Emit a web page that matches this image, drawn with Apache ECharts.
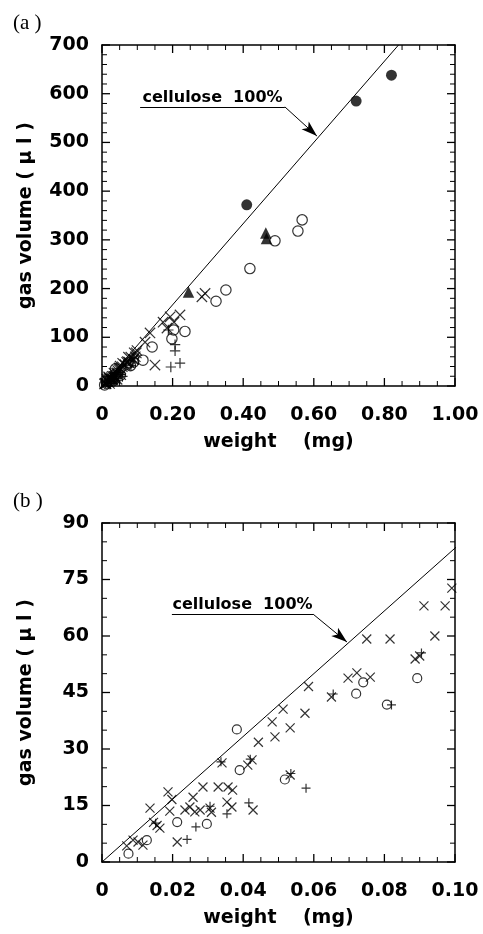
<!DOCTYPE html>
<html><head><meta charset="utf-8">
<script src="https://cdn.jsdelivr.net/npm/echarts@6/dist/echarts.min.js"></script>
<style>html,body{margin:0;padding:0;background:#fff}#c{width:483px;height:934px}</style>
</head><body><div id="c"></div>
<script>
// weight (mg), gas volume (µl)
const filledCircles = [[0.41,372],[0.72,585],[0.82,638]];
const filledTriangles = [[0.245,193],[0.464,314],[0.466,303]];
const openCircles = [
  [0.0075,2.2],[0.0127,5.8],[0.0213,10.6],[0.0297,10.1],[0.0382,35.2],[0.0390,24.4],
  [0.0518,21.9],[0.0720,44.7],[0.0740,47.7],[0.0807,41.8],[0.0893,48.8],
  [0.116,53],[0.142,80],[0.198,97],[0.203,115],[0.235,112],[0.323,174],[0.351,197],
  [0.419,241],[0.490,298],[0.555,318],[0.567,341]
];
const crosses = [
  [0.0070,4.3],[0.0088,5.8],[0.0102,5.3],[0.0116,4.5],[0.0136,14.3],[0.0146,10.5],
  [0.0156,9.7],[0.0164,9.0],[0.0187,18.6],[0.0198,16.6],[0.0192,13.5],[0.0213,5.3],
  [0.0235,13.8],[0.0249,14.6],[0.0258,17.2],[0.0263,13.3],[0.0278,13.8],[0.0286,19.9],
  [0.0306,14.3],[0.0310,13.2],[0.0329,19.9],[0.0340,26.3],[0.0357,19.9],[0.0354,15.9],
  [0.0368,14.6],[0.0370,19.1],[0.0413,25.7],[0.0425,27.1],[0.0428,13.8],[0.0443,31.8],
  [0.0482,37.2],[0.0490,33.2],[0.0513,40.6],[0.0533,35.6],[0.0533,23.1],[0.0575,39.5],
  [0.0585,46.6],[0.0650,43.8],[0.0697,48.8],[0.0722,50.2],[0.0760,49.1],[0.0750,59.2],
  [0.0816,59.2],[0.0887,53.9],[0.0900,54.7],[0.0912,68.0],[0.0943,60.0],[0.0972,68.0],
  [0.0991,72.7],
  [0.122,90],[0.136,109],[0.150,43],[0.173,131],[0.184,119],[0.193,142],[0.204,131],
  [0.221,146],[0.283,183],[0.292,190]
];
const pluses = [
  [0.0152,10.3],[0.0241,6.0],[0.0266,9.3],[0.0306,14.8],[0.0337,26.6],[0.0354,12.8],
  [0.0416,15.7],[0.0420,27.3],[0.0535,23.5],[0.0578,19.6],[0.0655,44.6],[0.0820,41.7],
  [0.0905,55.5],
  [0.195,39],[0.221,47],[0.207,72],[0.207,85],[0.188,115]
];
const cellulose = [[0,0],[0.84,700]];
const xLabelsA = ['0','0.20','0.40','0.60','0.80','1.00'];
const yLabelsA = ['0','100','200','300','400','500','600','700'];
const xLabelsB = ['0','0.02','0.04','0.06','0.08','0.10'];
const yLabelsB = ['0','15','30','45','60','75','90'];
// tick positions along the frame (major ones carry labels)
const xTicksA = [0,0.05,0.1,0.15,0.2,0.25,0.3,0.35,0.4,0.45,0.5,0.55,0.6,0.65,0.7,0.75,0.8,0.85,0.9,0.95,1.0];
const yTicksA = [0,20,40,60,80,100,120,140,160,180,200,220,240,260,280,300,320,340,360,380,400,
                 420,440,460,480,500,520,540,560,580,600,620,640,660,680,700];
const xTicksB = [0,0.005,0.01,0.015,0.02,0.025,0.03,0.035,0.04,0.045,0.05,0.055,0.06,0.065,0.07,
                 0.075,0.08,0.085,0.09,0.095,0.1];
const yTicksB = [0,5,10,15,20,25,30,35,40,45,50,55,60,65,70,75,80,85,90];

const FONT = 'DejaVu Sans';
const crossPath = 'path://M0,0L10,10M10,0L0,10';
const plusPath = 'path://M5,0L5,10M0,5L10,5';

function axis(kind, pos, grid, min, max, interval, labels, name) {
  const main = pos === 'bottom' || pos === 'left';
  const a = {
    type: 'value', gridIndex: grid, position: pos, min, max, interval,
    axisLine: {show: true, onZero: false, lineStyle: {color: '#000', width: 1.5}},
    axisTick: {show: false}, minorTick: {show: false},
    splitLine: {show: false}, minorSplitLine: {show: false},
    axisLabel: {show: main, fontFamily: FONT, fontWeight: 'bold', fontSize: 19, color: '#000',
      margin: kind === 'x' ? 20 : 13,
      formatter: (v, i) => labels[i] !== undefined ? labels[i] : ''}
  };
  if (main && name) {
    a.name = name; a.nameLocation = 'middle';
    a.nameTextStyle = {fontFamily: FONT, fontWeight: 'bold', fontSize: 19, color: '#000'};
    a.nameGap = kind === 'x' ? 47 : 66;
  }
  return a;
}

function isMajor(v, interval) {
  const r = v / interval;
  return Math.abs(r - Math.round(r)) < 1e-6;
}

// inward tick marks on both opposite edges, positioned through the axes' scales
function tickSeries(xi, yi, vertical, ticks, lo, hi, interval) {
  return {
    type: 'custom', xAxisIndex: xi, yAxisIndex: yi, silent: true, clip: false, z: 5,
    data: ticks.map(v => vertical ? [v, lo] : [lo, v]),
    encode: {x: 0, y: 1},
    renderItem: (params, api) => {
      const v = api.value(vertical ? 0 : 1);
      const major = isMajor(v, interval);
      const len = major ? 8 : 5;
      const st = {stroke: '#000', lineWidth: major ? 1.3 : 1};
      if (vertical) {
        const b = api.coord([v, lo]), t = api.coord([v, hi]);
        return {type: 'group', children: [
          {type: 'line', shape: {x1: b[0], y1: b[1], x2: b[0], y2: b[1] - len}, style: st},
          {type: 'line', shape: {x1: t[0], y1: t[1], x2: t[0], y2: t[1] + len}, style: st}
        ]};
      }
      const l = api.coord([lo, v]), r = api.coord([hi, v]);
      return {type: 'group', children: [
        {type: 'line', shape: {x1: l[0], y1: l[1], x2: l[0] + len, y2: l[1]}, style: st},
        {type: 'line', shape: {x1: r[0], y1: r[1], x2: r[0] - len, y2: r[1]}, style: st}
      ]};
    }
  };
}

function scatterSet(xi, yi, big) {
  const s = big ? 1.15 : 1;
  const base = {type: 'scatter', xAxisIndex: xi, yAxisIndex: yi};
  return [
    Object.assign({}, base, {data: openCircles, symbol: 'circle', symbolSize: 9 * s,
      itemStyle: {color: 'none', borderColor: '#000', borderWidth: 1.2}}),
    Object.assign({}, base, {data: crosses, symbol: crossPath, symbolSize: 9 * s,
      itemStyle: {color: 'none', borderColor: '#000', borderWidth: 1.2}}),
    Object.assign({}, base, {data: pluses, symbol: plusPath, symbolSize: 9 * s,
      itemStyle: {color: 'none', borderColor: '#000', borderWidth: 1.2}}),
    Object.assign({}, base, {data: filledTriangles, symbol: 'triangle', symbolSize: 10 * s,
      itemStyle: {color: '#000'}}),
    Object.assign({}, base, {data: filledCircles, symbol: 'circle', symbolSize: 9.5 * s,
      itemStyle: {color: '#000'}})
  ];
}

function lineSeries(xi, yi, ann) {
  return {
    type: 'line', xAxisIndex: xi, yAxisIndex: yi, data: cellulose, showSymbol: false,
    lineStyle: {color: '#000', width: 1},
    markLine: {
      symbol: 'none',
      lineStyle: {color: '#000', width: 1, type: 'solid'},
      label: {show: true, position: 'insideMiddleTop', distance: 1, formatter: p => p.name || '',
        fontFamily: FONT, fontWeight: 'bold', fontSize: 16, color: '#000'},
      data: [
        [{name: 'cellulose  100%', coord: ann[0]}, {coord: ann[1]}],
        [{name: '', coord: ann[1]}, {coord: ann[2], symbol: 'arrow', symbolSize: [8, 16]}]
      ]
    }
  };
}

const option = {
  animation: false,
  title: [
    {text: '(a )', left: 8, top: 8, textStyle: {fontFamily: 'Liberation Serif', fontSize: 21, fontWeight: 'normal', color: '#000'}},
    {text: '(b )', left: 8, top: 486, textStyle: {fontFamily: 'Liberation Serif', fontSize: 21, fontWeight: 'normal', color: '#000'}}
  ],
  grid: [
    {left: 102, top: 45, width: 353, height: 341, outerBoundsMode: 'none'},
    {left: 102, top: 523, width: 353, height: 339, outerBoundsMode: 'none'}
  ],
  xAxis: [
    axis('x', 'bottom', 0, 0, 1, 0.2, xLabelsA, 'weight    (mg)'),
    axis('x', 'top', 0, 0, 1, 0.2, xLabelsA),
    axis('x', 'bottom', 1, 0, 0.1, 0.02, xLabelsB, 'weight    (mg)'),
    axis('x', 'top', 1, 0, 0.1, 0.02, xLabelsB)
  ],
  yAxis: [
    axis('y', 'left', 0, 0, 700, 100, yLabelsA, 'gas volume ( μ l )'),
    axis('y', 'right', 0, 0, 700, 100, yLabelsA),
    axis('y', 'left', 1, 0, 90, 15, yLabelsB, 'gas volume ( μ l )'),
    axis('y', 'right', 1, 0, 90, 15, yLabelsB)
  ],
  series: [
    tickSeries(0, 0, true, xTicksA, 0, 700, 0.2),
    tickSeries(0, 0, false, yTicksA, 0, 1, 100),
    lineSeries(0, 0, [[0.108, 573], [0.518, 573], [0.609, 513]]),
    ...scatterSet(0, 0, true),
    tickSeries(2, 2, true, xTicksB, 0, 90, 0.02),
    tickSeries(2, 2, false, yTicksB, 0, 0.1, 15),
    lineSeries(2, 2, [[0.0198, 65.8], [0.0598, 65.8], [0.0694, 58.4]]),
    ...scatterSet(2, 2, false)
  ]
};

const chart = echarts.init(document.getElementById('c'));
chart.setOption(option);
</script>
</body></html>
